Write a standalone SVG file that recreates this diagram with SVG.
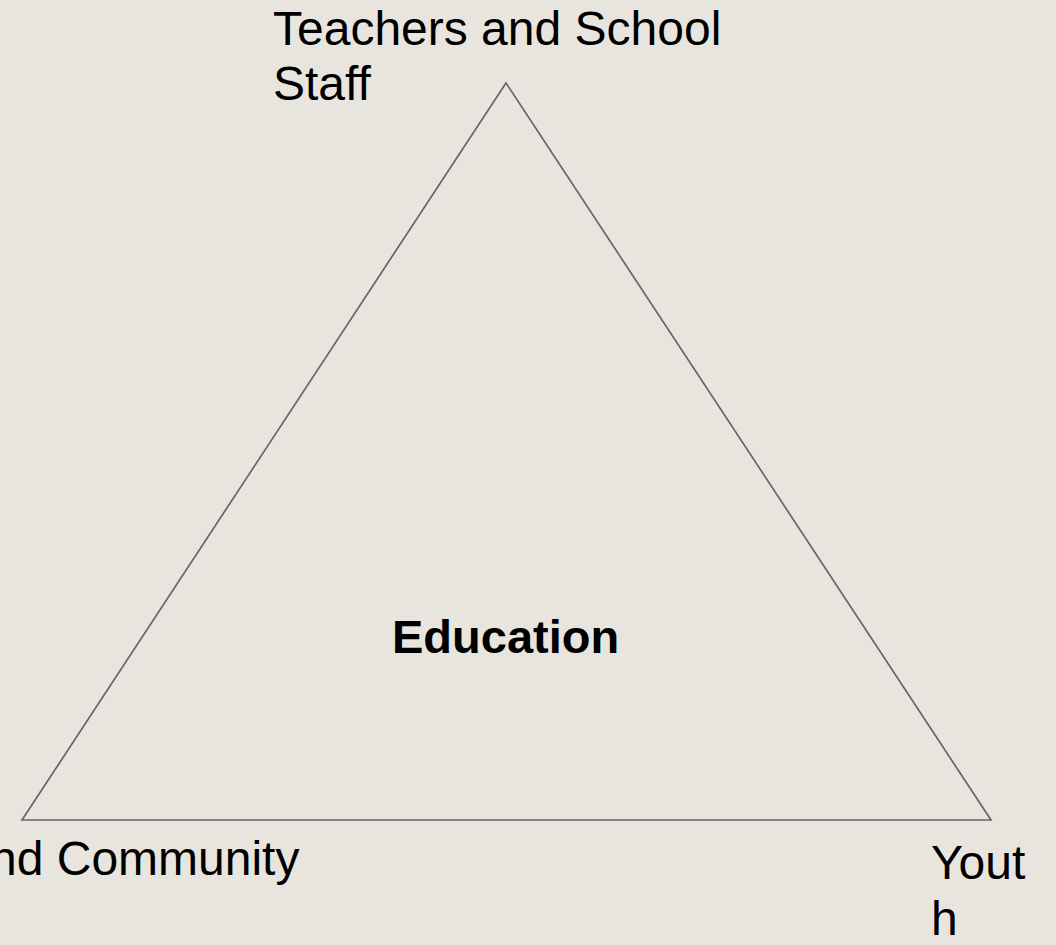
<svg xmlns="http://www.w3.org/2000/svg" width="1056" height="945" viewBox="0 0 1056 945">
<style>
.lbl{font-family:"Liberation Sans",Arial,sans-serif;font-size:48px;fill:#000}
.b{font-weight:bold;font-size:47px}
</style>
<rect width="1056" height="945" fill="#e8e5df"/>
<g id="connectors">
<polygon points="506,83 22,820 991,820" fill="none" stroke="#666" stroke-width="1.7"/>
</g>
<g id="node-top"><text class="lbl" x="273" y="45">Teachers and School</text><text class="lbl" x="273" y="100">Staff</text></g>
<g id="node-left"><text class="lbl" x="-10" y="875">nd Community</text></g>
<g id="node-right"><text class="lbl" x="931" y="879">Yout</text><text class="lbl" x="931" y="935">h</text></g>
<g id="node-center"><text class="lbl b" x="392" y="653">Education</text></g>
</svg>
